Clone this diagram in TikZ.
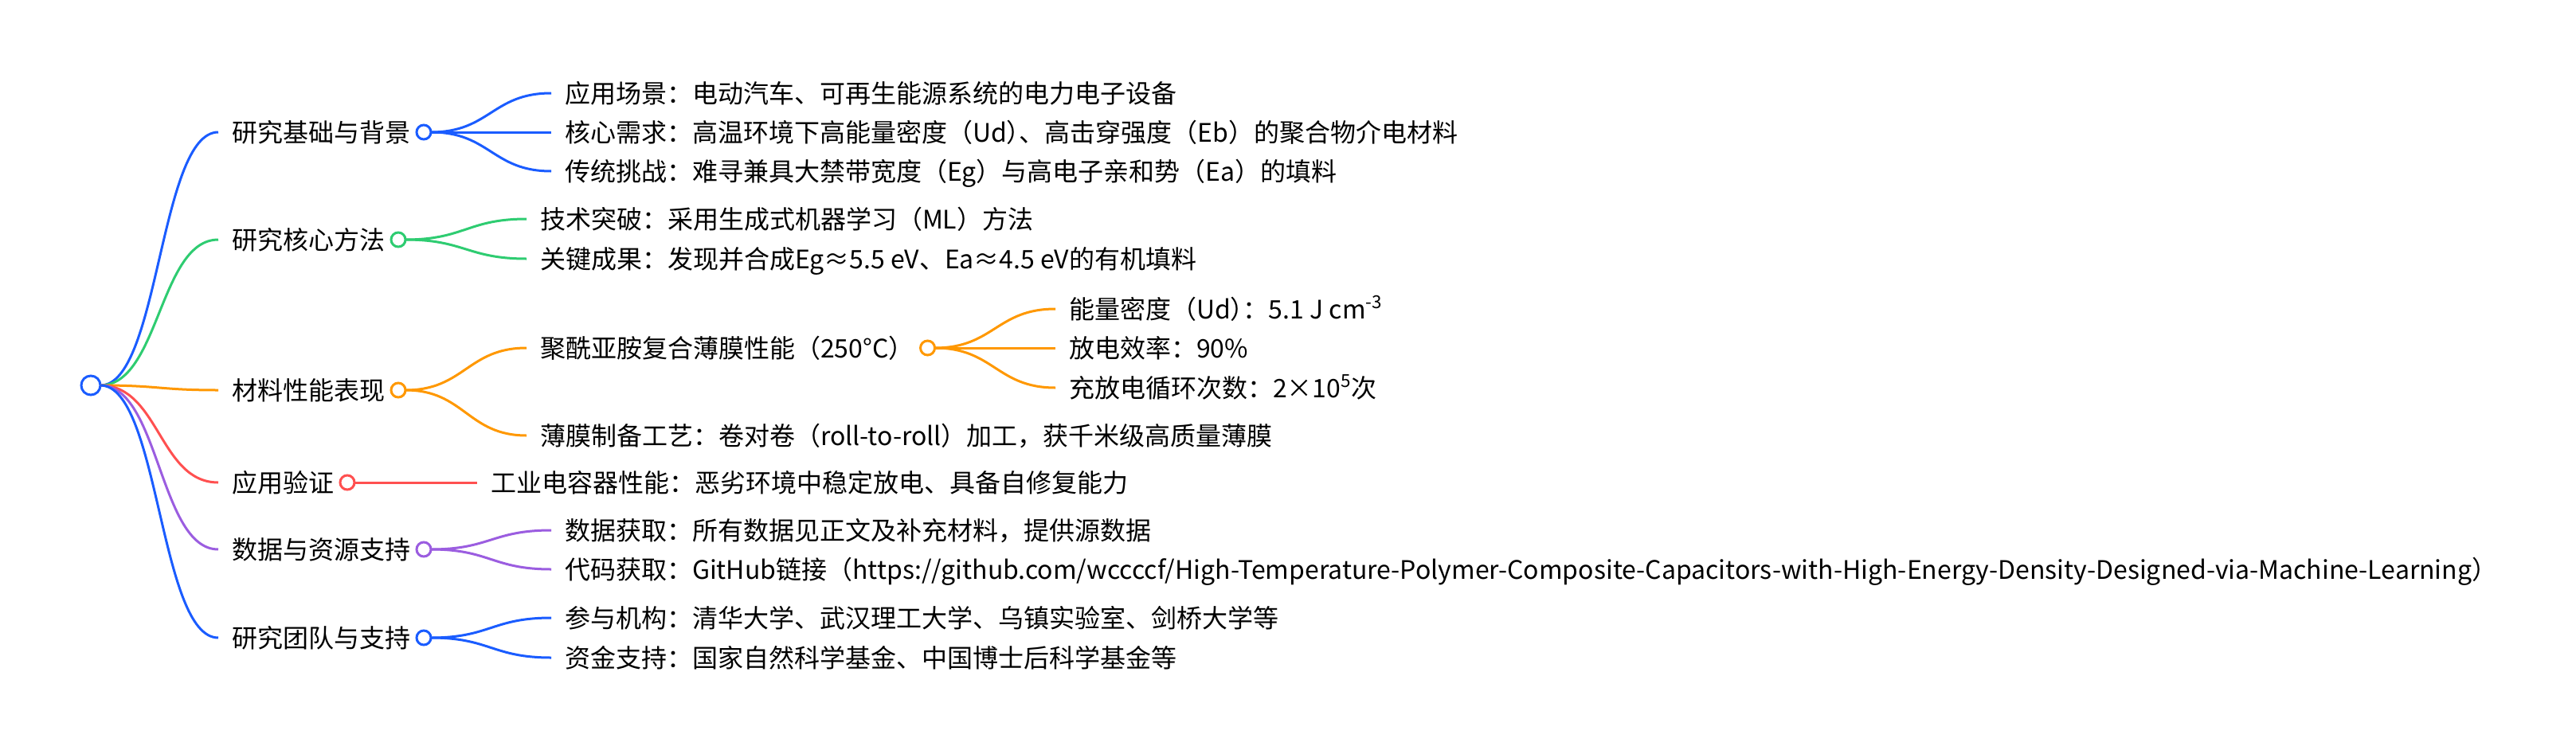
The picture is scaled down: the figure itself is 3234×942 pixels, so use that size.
\documentclass[tikz,border=0pt]{standalone}
\usepackage{fontspec}
\setmainfont{Noto Sans CJK SC}
\definecolor{cblue}{HTML}{1A5CFF}
\definecolor{cgreen}{HTML}{2ECC71}
\definecolor{corange}{HTML}{FF9800}
\definecolor{cred}{HTML}{FF5050}
\definecolor{cpurple}{HTML}{9B5DE0}
\newcommand\tightp{\kern-0.5em}
\begin{document}
\begin{tikzpicture}[x=0.5pt,y=-0.5pt,
  txt/.style={anchor=west,inner sep=0pt,outer sep=0pt,text height=14.08pt,text depth=1.92pt,font=\fontsize{16pt}{19pt}\selectfont,text=black},
  dot/.style={circle,draw=#1,fill=white,line width=1.5pt,minimum size=9pt,inner sep=0pt,outer sep=0pt},
  rootdot/.style={circle,draw=#1,fill=white,line width=1.5pt,minimum size=12pt,inner sep=0pt,outer sep=0pt},
  link/.style={draw=#1,line width=1.5pt,to path={.. controls ([xshift=37pt]\tikztostart) and ([xshift=-37pt]\tikztotarget) .. (\tikztotarget)}}]
\useasboundingbox[fill=white] (0,0) rectangle (3234,942);

% level 1 texts
\node[txt] (a1) at (291,166) {研究基础与背景};
\node[txt] (a2) at (291,301) {研究核心方法};
\node[txt] (a3) at (291,490) {材料性能表现};
\node[txt] (a4) at (291,606) {应用验证};
\node[txt] (a5) at (291,690) {数据与资源支持};
\node[txt] (a6) at (291,801) {研究团队与支持};

% level 2 texts
\node[txt] (b11) at (709,117) {应用场景：电动汽车、可再生能源系统的电力电子设备};
\node[txt] (b12) at (709,166) {核心需求：高温环境下高能量密度（Ud）\tightp、高击穿强度（Eb）的聚合物介电材料};
\node[txt] (b13) at (709,215) {传统挑战：难寻兼具大禁带宽度（Eg）与高电子亲和势（Ea）的填料};
\node[txt] (b21) at (678,275) {技术突破：采用生成式机器学习（ML）方法};
\node[txt] (b22) at (678,325) {关键成果：发现并合成Eg≈5.5 eV、Ea≈4.5 eV的有机填料};
\node[txt] (b31) at (678,437) {聚酰亚胺复合薄膜性能（250°C）};
\node[txt] (b32) at (678,547) {薄膜制备工艺：卷对卷（roll-to-roll）加工，获千米级高质量薄膜};
\node[txt] (b41) at (616,606) {工业电容器性能：恶劣环境中稳定放电、具备自修复能力};
\node[txt] (b51) at (709,666) {数据获取：所有数据见正文及补充材料，提供源数据};
\node[txt] (b52) at (709,715) {代码获取：GitHub链接（https://github.com/wccccf/High-Temperature-Polymer-Composite-Capacitors-with-High-Energy-Density-Designed-via-Machine-Learning）};
\node[txt] (b61) at (709,776) {参与机构：清华大学、武汉理工大学、乌镇实验室、剑桥大学等};
\node[txt] (b62) at (709,826) {资金支持：国家自然科学基金、中国博士后科学基金等};

% level 3 texts
\node[txt] (d1) at (1342,388) {能量密度（Ud）\tightp：5.1 J cm\textsuperscript{-3}};
\node[txt] (d2) at (1342,437) {放电效率：90\%};
\node[txt] (d3) at (1342,487) {充放电循环次数：2×10\textsuperscript{5}次};

% circles
\node[rootdot=cblue] (r) at (114,484) {};
\node[dot=cblue] (c1) at ([xshift=8.5pt]a1.east) {};
\node[dot=cgreen] (c2) at ([xshift=8.5pt]a2.east) {};
\node[dot=corange] (c3) at ([xshift=8.5pt]a3.east) {};
\node[dot=cred] (c4) at ([xshift=8.5pt]a4.east) {};
\node[dot=cpurple] (c5) at ([xshift=8.5pt]a5.east) {};
\node[dot=cblue] (c6) at ([xshift=8.5pt]a6.east) {};
\node[dot=corange] (c31) at ([xshift=8.5pt]b31.east) {};

% root links
\draw[link=cblue] (r.east) to ([xshift=-8.5pt]a1.west);
\draw[link=cgreen] (r.east) to ([xshift=-8.5pt]a2.west);
\draw[link=corange] (r.east) to ([xshift=-8.5pt]a3.west);
\draw[link=cred] (r.east) to ([xshift=-8.5pt]a4.west);
\draw[link=cpurple] (r.east) to ([xshift=-8.5pt]a5.west);
\draw[link=cblue] (r.east) to ([xshift=-8.5pt]a6.west);

% level 2 links
\draw[link=cblue] (c1.east) to ([xshift=-8.5pt]b11.west);
\draw[link=cblue] (c1.east) to ([xshift=-8.5pt]b12.west);
\draw[link=cblue] (c1.east) to ([xshift=-8.5pt]b13.west);
\draw[link=cgreen] (c2.east) to ([xshift=-8.5pt]b21.west);
\draw[link=cgreen] (c2.east) to ([xshift=-8.5pt]b22.west);
\draw[link=corange] (c3.east) to ([xshift=-8.5pt]b31.west);
\draw[link=corange] (c3.east) to ([xshift=-8.5pt]b32.west);
\draw[link=cred] (c4.east) to ([xshift=-8.5pt]b41.west);
\draw[link=cpurple] (c5.east) to ([xshift=-8.5pt]b51.west);
\draw[link=cpurple] (c5.east) to ([xshift=-8.5pt]b52.west);
\draw[link=cblue] (c6.east) to ([xshift=-8.5pt]b61.west);
\draw[link=cblue] (c6.east) to ([xshift=-8.5pt]b62.west);

% level 3 links
\draw[link=corange] (c31.east) to ([xshift=-8.5pt]d1.west);
\draw[link=corange] (c31.east) to ([xshift=-8.5pt]d2.west);
\draw[link=corange] (c31.east) to ([xshift=-8.5pt]d3.west);
\end{tikzpicture}
\end{document}
